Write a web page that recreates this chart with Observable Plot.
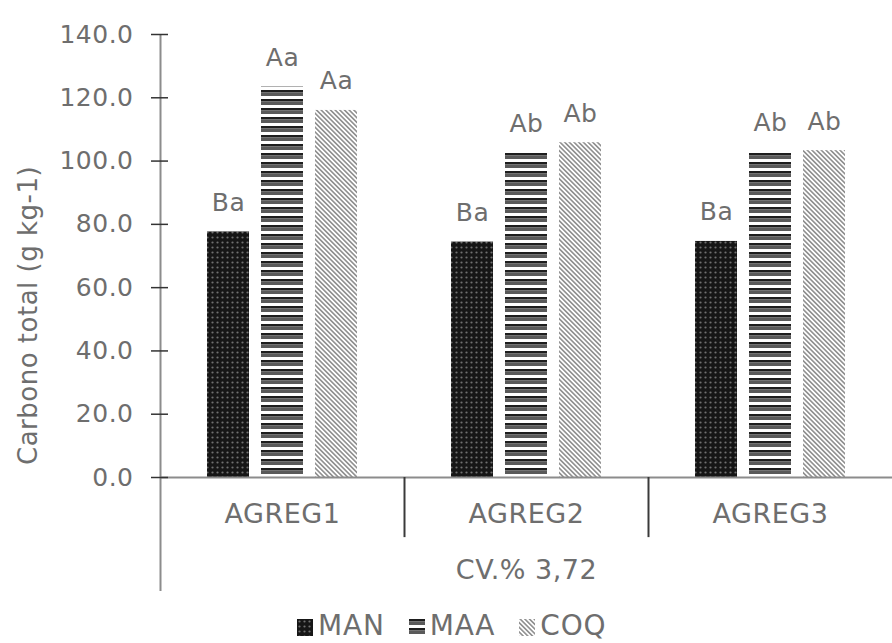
<!DOCTYPE html>
<html>
<head>
<meta charset="utf-8">
<script src="https://cdn.jsdelivr.net/npm/d3@7"></script>
<script src="https://cdn.jsdelivr.net/npm/@observablehq/plot@0.6"></script>
<style>
  html, body { margin: 0; padding: 0; background: #fff; }
  body { width: 892px; height: 643px; overflow: hidden; font-family: "DejaVu Sans", sans-serif; }
  #chart svg { display: block; }
  #legend {
    height: 43px; box-sizing: border-box; display: flex; align-items: flex-end; padding-left: 297px; padding-bottom: 3px;
    font-size: 28px; line-height: 28px; color: #6e6e6e; letter-spacing: 0.8px;
  }
  #legend .item { display: flex; align-items: flex-end; margin-right: 24px; }
  #legend .sw { width: 16px; height: 17px; margin-right: 5px; margin-bottom: 4px; }
</style>
</head>
<body>
<svg width="0" height="0" style="position:absolute">
  <defs>
    <pattern id="pMAN" width="5" height="5" patternUnits="userSpaceOnUse">
      <rect width="5" height="5" fill="#161616"></rect>
      <circle cx="2.5" cy="2.5" r="1.1" fill="#707070"></circle>
    </pattern>
    <pattern id="pMAA" width="9" height="9" patternUnits="userSpaceOnUse">
      <rect width="9" height="9" fill="#ffffff"></rect>
      <rect y="0" width="9" height="2.5" fill="#1e1e1e"></rect>
      <rect y="2.5" width="9" height="3.5" fill="#5a5a5a"></rect>
    </pattern>
    <pattern id="pCOQ" width="3.3" height="3.3" patternUnits="userSpaceOnUse" patternTransform="rotate(-45)">
      <rect width="3.3" height="3.3" fill="#ffffff"></rect>
      <rect width="1.6" height="3.3" fill="#8f8f8f"></rect>
    </pattern>
  </defs>
</svg>
<div id="chart"></div>
<div id="legend"></div>
<script>
// ---- data ----
const groups = ["AGREG1", "AGREG2", "AGREG3"];
const series = ["MAN", "MAA", "COQ"];
const manValues = [77.6, 74.4, 74.6];
const maaValues = [123.4, 102.5, 103.0];
const coqValues = [116.0, 105.8, 103.3];
const manLetters = ["Ba", "Ba", "Ba"];
const maaLetters = ["Aa", "Ab", "Ab"];
const coqLetters = ["Aa", "Ab", "Ab"];
const yTicks = [0, 20, 40, 60, 80, 100, 120, 140];
const yTitle = "Carbono total (g kg-1)";
const cvNote = "CV.% 3,72";

const valuesBySeries = {MAN: manValues, MAA: maaValues, COQ: coqValues};
const lettersBySeries = {MAN: manLetters, MAA: maaLetters, COQ: coqLetters};
const rows = [];
groups.forEach((g, i) => {
  series.forEach(s => rows.push({group: g, series: s, value: valuesBySeries[s][i], letter: lettersBySeries[s][i]}));
});

// ---- layout ----
const W = 892, H = 600, ML = 160, MR = 0, MT = 34, MB = 123;
const facetW = (W - ML - MR) / groups.length;
const textColor = "#6e6e6e";
const axisGrey = "#8c8c8c";

const chart = Plot.plot({
  width: W, height: H,
  marginLeft: ML, marginRight: MR, marginTop: MT, marginBottom: MB,
  style: {fontFamily: "DejaVu Sans, sans-serif", fontSize: "25px", color: textColor, background: "#fff", overflow: "visible", letterSpacing: "0.5px"},
  fx: {domain: groups, padding: 0, label: null},
  x: {domain: series, paddingInner: 0.22, paddingOuter: 0.836, axis: null},
  y: {domain: [0, 140], label: null},
  color: {domain: series, range: ["url(#pMAN)", "url(#pMAA)", "url(#pCOQ)"]},
  marks: [
    Plot.barY(rows, {fx: "group", x: "series", y: "value", fill: "series"}),
    Plot.text(rows, {fx: "group", x: "series", y: "value", text: "letter", lineAnchor: "bottom", dy: -21, fill: textColor, fontSize: 25}),
    Plot.ruleY([0], {stroke: axisGrey, strokeWidth: 2}),
    // group separators below the baseline (left edge of facets 2 and 3)
    Plot.ruleX(groups.slice(1), {fx: d => d, x: null, y1: 0, y2: -19, dx: -facetW / 2, stroke: "#3a3a3a", strokeWidth: 2}),
    // y axis line, extended below the baseline
    Plot.ruleX([groups[0]], {fx: d => d, x: null, y1: 140, y2: -36, dx: -facetW / 2, stroke: axisGrey, strokeWidth: 2}),
    // tick labels
    Plot.axisY({ticks: yTicks, tickFormat: d => d.toFixed(1), tickSize: 0, tickPadding: 27, label: null, fill: textColor, fontSize: 25}),
    // ticks crossing the axis line
    Plot.axisY({ticks: yTicks, tickFormat: () => "", tickSize: 17, dx: 8, stroke: "#333", strokeWidth: 1.5, label: null}),
    Plot.axisFx({anchor: "bottom", tickSize: 0, tickPadding: 26, label: null, fill: textColor, fontSize: 27}),
    Plot.text([cvNote], {fx: () => groups[1], text: d => d, frameAnchor: "bottom", lineAnchor: "bottom", dy: 101, fill: textColor, fontSize: 27}),
    Plot.text([yTitle], {fx: () => groups[0], text: d => d, frameAnchor: "left", rotate: -90, dx: -132, dy: 209, fill: textColor, fontSize: 26})
  ]
});
document.getElementById("chart").appendChild(chart);

// ---- legend ----
const legend = document.getElementById("legend");
series.forEach(s => {
  const item = document.createElement("div");
  item.className = "item";
  const sw = document.createElementNS("http://www.w3.org/2000/svg", "svg");
  sw.setAttribute("class", "sw");
  sw.setAttribute("width", "16"); sw.setAttribute("height", "17");
  const r = document.createElementNS("http://www.w3.org/2000/svg", "rect");
  r.setAttribute("width", "16"); r.setAttribute("height", "17");
  r.setAttribute("fill", `url(#p${s})`);
  sw.appendChild(r);
  const t = document.createElement("span");
  t.textContent = s;
  item.appendChild(sw); item.appendChild(t);
  legend.appendChild(item);
});
</script>
</body>
</html>
